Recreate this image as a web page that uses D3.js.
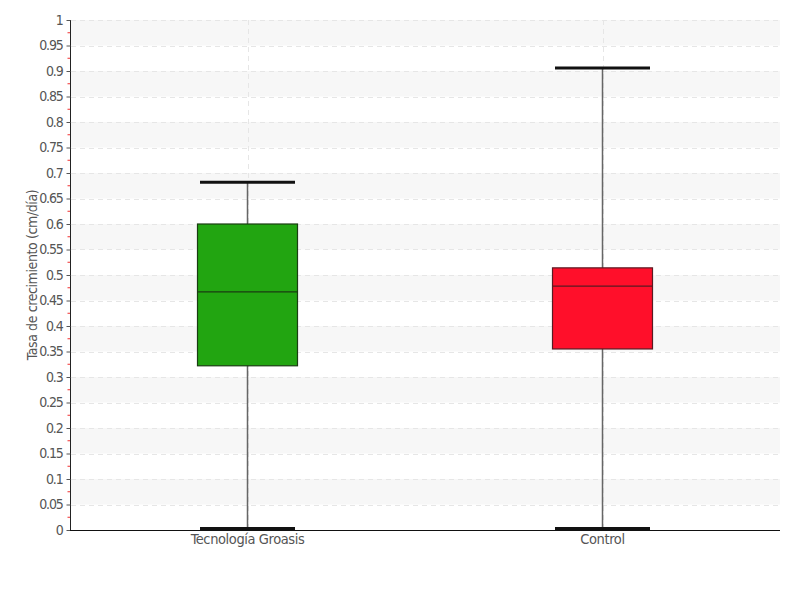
<!DOCTYPE html>
<html>
<head>
<meta charset="utf-8">
<script src="https://cdn.jsdelivr.net/npm/d3@7"></script>
<style>
  body { margin: 0; background: #fff; }
  text { font-family: "DejaVu Sans", sans-serif; font-stretch: condensed; fill: #555; }
</style>
</head>
<body>
<svg id="chart" width="800" height="600"></svg>
<script>
const categories = ["Tecnología Groasis", "Control"];
const whiskerLow = [0.0, 0.0];
const q1 = [0.322, 0.355];
const median = [0.467, 0.478];
const q3 = [0.600, 0.514];
const whiskerHigh = [0.682, 0.906];
const colors = ["#22a511", "#ff0f2a"];
const strokes = ["#1a3d12", "#5a1a22"];
const yTicks = d3.range(0, 1.0001, 0.05).map(v => +v.toFixed(2));
const yTitle = "Tasa de crecimiento (cm/día)";

const svg = d3.select("#chart");
const mLeft = 70, mRight = 780, mTop = 20, mBottom = 530;

const x = d3.scalePoint().domain(categories).range([mLeft, mRight]).padding(0.5);
const y = d3.scaleLinear().domain([0, 1]).range([mBottom, mTop]);

// alternating bands
const bandStarts = yTicks.filter((t, i) => i < yTicks.length - 1 && i % 2 === 1);
svg.append("g").selectAll("rect").data(bandStarts).join("rect")
  .attr("x", mLeft + 1).attr("width", mRight - mLeft - 1)
  .attr("y", d => y(d + 0.05)).attr("height", d => y(d) - y(d + 0.05))
  .attr("fill", "#f7f7f7");

// horizontal gridlines
svg.append("g").selectAll("line").data(yTicks.filter(t => t > 0)).join("line")
  .attr("x1", mLeft + 1).attr("x2", mRight)
  .attr("y1", d => Math.round(y(d)) + 0.5).attr("y2", d => Math.round(y(d)) + 0.5)
  .attr("stroke", "#e6e6e6").attr("stroke-width", 1).attr("stroke-dasharray", "5,4");

// vertical gridlines
svg.append("g").selectAll("line").data(categories).join("line")
  .attr("x1", d => Math.round(x(d)) + 0.5).attr("x2", d => Math.round(x(d)) + 0.5)
  .attr("y1", mTop).attr("y2", mBottom)
  .attr("stroke", "#e6e6e6").attr("stroke-width", 1).attr("stroke-dasharray", "5,4");

// y axis
const yAxis = d3.axisLeft(y).tickValues(yTicks).tickSize(4).tickPadding(4)
  .tickFormat(d => d3.format("")(d));
const gy = svg.append("g").attr("transform", `translate(${mLeft + 0.5},0)`).call(yAxis);
gy.select(".domain").attr("stroke", "#222").attr("d", `M0,${mTop}V${mBottom}`);
gy.selectAll(".tick line").attr("stroke", "#555");
gy.selectAll(".tick text").style("font-size", "14px").style("letter-spacing", "-1.2px")
  .style("font-family", "'DejaVu Sans', sans-serif").style("font-stretch", "condensed")
  .attr("fill", "#555");

// minor red ticks
const minor = yTicks.slice(0, -1).map(t => t + 0.025);
svg.append("g").selectAll("line").data(minor).join("line")
  .attr("x1", mLeft - 2.5).attr("x2", mLeft)
  .attr("y1", d => y(d)).attr("y2", d => y(d))
  .attr("stroke", "#f03030").attr("stroke-width", 1);

// x axis
svg.append("line").attr("x1", mLeft).attr("x2", mRight)
  .attr("y1", mBottom + 0.5).attr("y2", mBottom + 0.5).attr("stroke", "#111");
svg.append("g").selectAll("text").data(categories).join("text")
  .attr("x", d => x(d)).attr("y", mBottom + 14)
  .attr("text-anchor", "middle").style("font-size", "14.5px").style("letter-spacing", "-0.4px")
  .text(d => d);

// y title
svg.append("text")
  .attr("transform", `translate(37,${(mTop + mBottom) / 2}) rotate(-90)`)
  .attr("text-anchor", "middle").style("font-size", "14px").style("letter-spacing", "-0.4px")
  .text(yTitle);

// boxes
const boxW = 100, capW = 95;
const data = categories.map((c, i) => ({c, lo: whiskerLow[i], q1: q1[i], med: median[i], q3: q3[i], hi: whiskerHigh[i], fill: colors[i], stroke: strokes[i]}));
const g = svg.append("g").selectAll("g").data(data).join("g");
g.append("line")
  .attr("x1", d => x(d.c)).attr("x2", d => x(d.c))
  .attr("y1", d => y(d.hi)).attr("y2", d => y(d.lo))
  .attr("stroke", "#666").attr("stroke-width", 1.5);
g.append("rect")
  .attr("x", d => x(d.c) - boxW / 2).attr("width", boxW)
  .attr("y", d => y(d.q3)).attr("height", d => y(d.q1) - y(d.q3))
  .attr("fill", d => d.fill).attr("stroke", d => d.stroke).attr("stroke-width", 1.2);
g.append("line")
  .attr("x1", d => x(d.c) - boxW / 2).attr("x2", d => x(d.c) + boxW / 2)
  .attr("y1", d => y(d.med)).attr("y2", d => y(d.med))
  .attr("stroke", d => d.stroke).attr("stroke-width", 1.2);
g.selectAll(".cap").data(d => [d.hi, d.lo].map(v => ({c: d.c, v}))).join("line")
  .attr("x1", d => x(d.c) - capW / 2).attr("x2", d => x(d.c) + capW / 2)
  .attr("y1", d => y(d.v) - (d.v === 0 ? 1.5 : 0)).attr("y2", d => y(d.v) - (d.v === 0 ? 1.5 : 0))
  .attr("stroke", "#111").attr("stroke-width", 3);
</script>
</body>
</html>
